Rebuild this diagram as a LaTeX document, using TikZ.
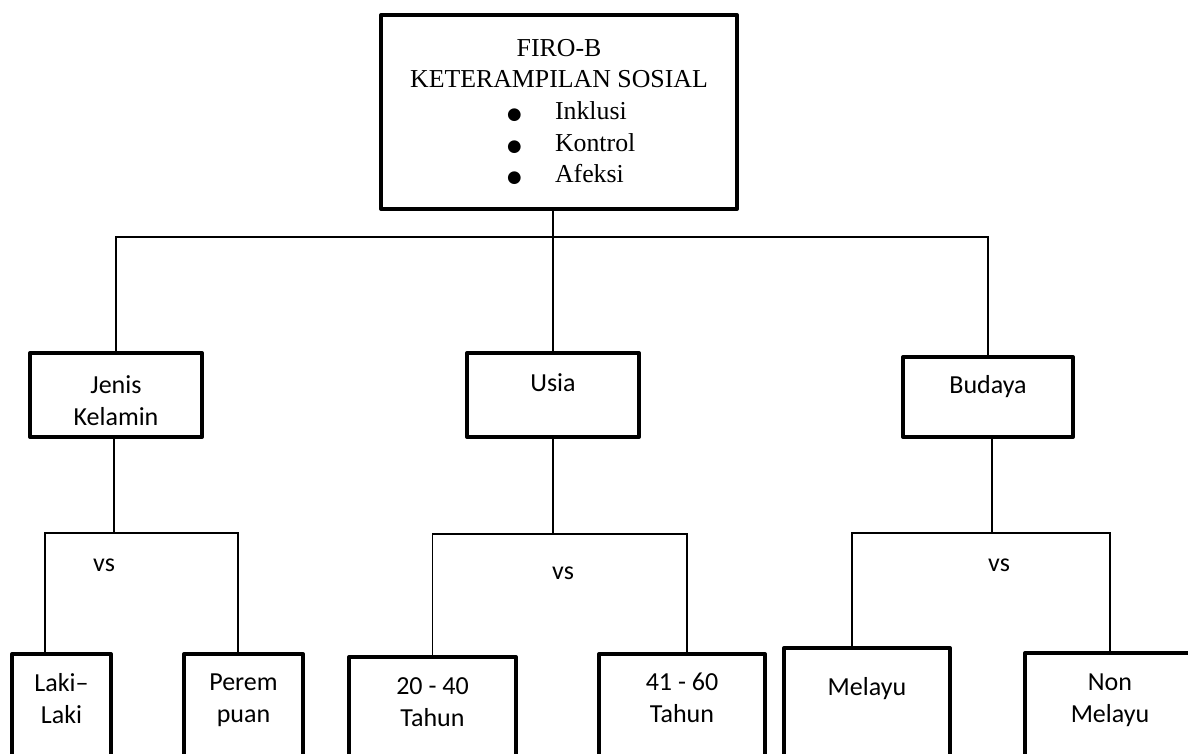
\documentclass[tikz,border=0pt]{standalone}
\usepackage{fontspec}
\setmainfont{Liberation Serif}
\newfontfamily\calibri{Carlito}
\newfontfamily\dejavu{DejaVu Sans}
\usetikzlibrary{positioning}

\newcommand{\firoitem}[1]{\makebox[62.4pt][l]{\makebox[28.8pt][l]{\dejavu\fontsize{10}{12}\selectfont ●}#1}}

\begin{document}
\begin{tikzpicture}[
  x=0.6pt, y=-0.6pt,
  box/.style={draw, line width=2.4pt, line join=round, inner sep=0pt},
  leaf/.style={box, anchor=north, minimum height=120pt},
  lbl/.style={anchor=north, align=center, inner sep=0pt, font=\calibri\fontsize{15.6}{19.2}\selectfont},
  conn/.style={line width=1pt},
  vs/.style={font=\calibri\fontsize{15.6}{19.2}\selectfont, inner sep=0pt}
]
\useasboundingbox (0,0) rectangle (1188,753);
\clip (0,0) rectangle (1188,753);

% puncak
\node[box, minimum width=213.6pt, minimum height=116.4pt, align=center,
  font=\fontsize{15.5}{19}\selectfont] (firo) at (559,112)
  {FIRO-B\\KETERAMPILAN SOSIAL\\\firoitem{Inklusi}\\\firoitem{Kontrol}\\\firoitem{Afeksi}};

% tingkat kedua
\node[box, minimum width=103.2pt, minimum height=50.4pt,
  label={[lbl, yshift=-14.4pt]north:Jenis\\Kelamin}] (jk) at (116,395) {};
\node[box, minimum width=103.2pt, minimum height=50.4pt,
  label={[lbl, yshift=-13.2pt]north:Usia}] (usia) at (553,395) {};
\node[box, minimum width=102pt, minimum height=48pt,
  label={[lbl, yshift=-12pt]north:Budaya}] (bud) at (988,397) {};

% tingkat bawah
\node[leaf, minimum width=59.4pt, label={[lbl, yshift=-12.6pt]north:Laki–\\Laki}] (laki) at (61.5,652) {};
\node[leaf, minimum width=71.4pt, label={[lbl, yshift=-12.6pt]north:Perem\\puan}] (perem) at (243.5,652) {};
\node[leaf, minimum width=100.2pt, label={[lbl, yshift=-13.2pt]north:20 - 40\\Tahun}] (t2040) at (432.5,655) {};
\node[leaf, minimum width=99.6pt, label={[lbl, yshift=-12.6pt]north:41 - 60\\Tahun}] (t4160) at (682,652) {};
\node[leaf, minimum width=99.6pt, label={[lbl, yshift=-18.6pt]north:Melayu}] (melayu) at (867,646) {};
\node[leaf, minimum width=102pt, label={[lbl, yshift=-13.2pt]north:Non\\Melayu}] (nonmel) at (1110,651) {};

\node[vs] (vs1) at (104,565) {vs};
\node[vs] (vs2) at (563,573) {vs};
\node[vs] (vs3) at (999,565) {vs};

% garis
\coordinate (bus) at (552,237);
\coordinate (fork1) at (114,533);
\coordinate (fork2) at (553,534);
\coordinate (fork3) at (992,533);

\draw[conn] (usia.north |- firo.south) -- (usia.north);
\draw[conn] (jk.north) |- (bus) -| (bud.north);

\draw[conn] (fork1 |- jk.south) -- (fork1);
\draw[conn] ([xshift=-9.9pt]laki.north) |- (fork1) -| ([xshift=-3.3pt]perem.north);

\draw[conn] (usia.south) -- (fork2);
\draw[conn] (t2040.north) |- (fork2) -| ([xshift=3pt]t4160.north);

\draw[conn] (fork3 |- bud.south) -- (fork3);
\draw[conn] ([xshift=-9pt]melayu.north) |- (fork3) -| (nonmel.north);
\end{tikzpicture}
\end{document}
